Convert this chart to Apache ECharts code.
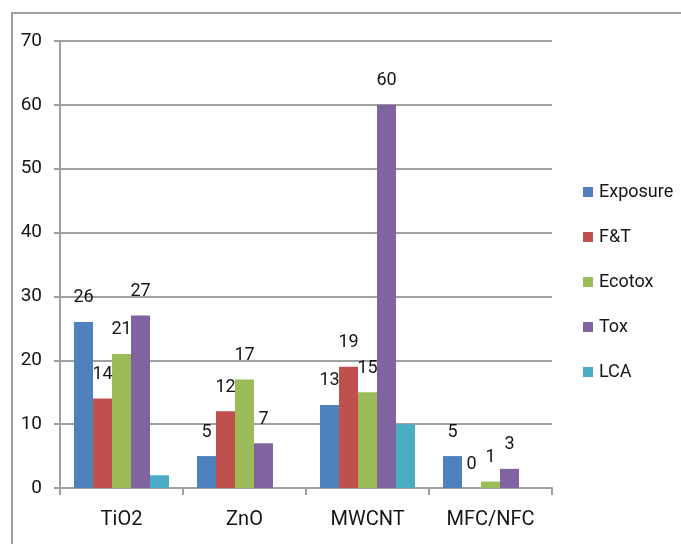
<!DOCTYPE html>
<html>
<head>
<meta charset="utf-8">
<style>
  html, body { margin: 0; padding: 0; background: #fff; }
  #chart { width: 681px; height: 544px; }
</style>
<script src="https://cdn.jsdelivr.net/npm/echarts@6/dist/echarts.min.js"></script>
</head>
<body>
<div id="chart"></div>
<script>
// Number of studies per nanomaterial and topic
const categories = ['TiO2', 'ZnO', 'MWCNT', 'MFC/NFC'];
const exposure = [26, 5, 13, 5];
const fateTransport = [14, 12, 19, 0];
const ecotox = [21, 17, 15, 1];
const tox = [27, 7, 60, 3];
const lca = [2, null, 10, null];
const yTicks = { min: 0, max: 70, interval: 10 };

const FONT = 'Roboto, "Liberation Sans", sans-serif';
const GRID_COLOR = '#a0a0a0';
const TEXT_COLOR = '#151515';

function barSeries(name, data, color, showLabel) {
  return {
    name: name,
    type: 'bar',
    data: data,
    barWidth: 19,
    barGap: '0%',
    itemStyle: { color: color },
    label: {
      show: showLabel,
      position: 'top',
      distance: 15,
      color: TEXT_COLOR,
      fontFamily: FONT,
      fontSize: 18
    }
  };
}

const chart = echarts.init(document.getElementById('chart'), null, { renderer: 'canvas' });
chart.setOption({
  animation: false,
  backgroundColor: '#fff',
  textStyle: { fontFamily: FONT },
  graphic: [{
    type: 'rect',
    shape: { x: 12, y: 13, width: 1000, height: 1000 },
    style: { fill: 'none', stroke: '#a0a0a0', lineWidth: 2 },
    silent: true
  }],
  grid: { left: 60, right: 129, top: 41, bottom: 56, containLabel: false },
  legend: {
    orient: 'vertical',
    left: 583,
    top: 182,
    padding: 0,
    itemWidth: 10,
    itemHeight: 10,
    itemGap: 25,
    icon: 'rect',
    textStyle: { fontFamily: FONT, fontSize: 18, color: TEXT_COLOR, padding: [0, 0, 0, 1], height: 20, lineHeight: 20 },
    data: ['Exposure', 'F&T', 'Ecotox', 'Tox', 'LCA']
  },
  xAxis: {
    type: 'category',
    data: categories,
    axisLine: { lineStyle: { color: GRID_COLOR, width: 2 } },
    axisTick: { show: true, length: 7, lineStyle: { color: GRID_COLOR, width: 2 } },
    axisLabel: { color: TEXT_COLOR, fontFamily: FONT, fontSize: 20, margin: 22 }
  },
  yAxis: {
    type: 'value',
    min: yTicks.min,
    max: yTicks.max,
    interval: yTicks.interval,
    axisLine: { show: true, lineStyle: { color: GRID_COLOR, width: 2 } },
    axisTick: { show: true, length: 6, lineStyle: { color: GRID_COLOR, width: 2 } },
    splitLine: { show: true, lineStyle: { color: GRID_COLOR, width: 2 } },
    axisLabel: { color: TEXT_COLOR, fontFamily: FONT, fontSize: 19, margin: 18 }
  },
  series: [
    barSeries('Exposure', exposure, '#4f81bd', true),
    barSeries('F&T', fateTransport, '#c0504d', true),
    barSeries('Ecotox', ecotox, '#9bbb59', true),
    barSeries('Tox', tox, '#8064a2', true),
    barSeries('LCA', lca, '#4bacc6', false)
  ]
});
</script>
</body>
</html>
